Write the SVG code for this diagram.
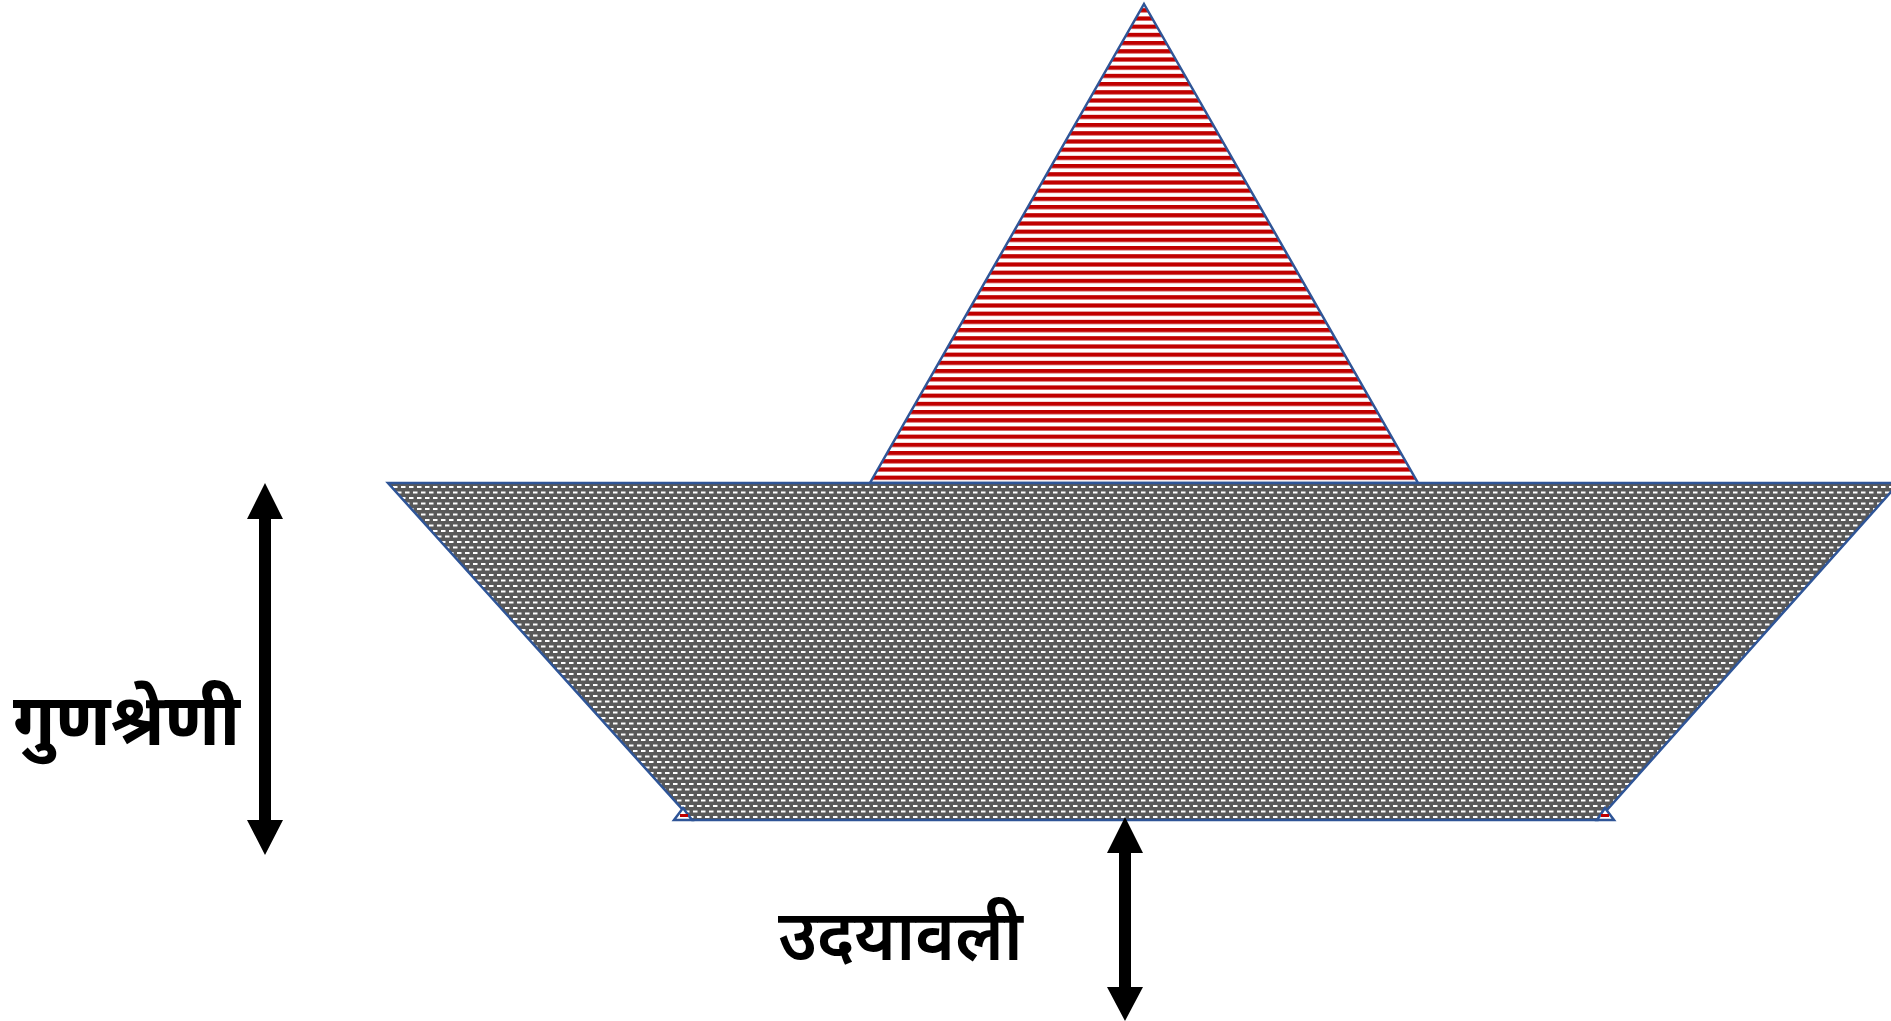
<svg xmlns="http://www.w3.org/2000/svg" width="1891" height="1021" viewBox="0 0 1891 1021">
<style>
.outline{stroke:#2F5597;stroke-width:2.5;stroke-linejoin:miter}
.lbl{font-family:"Noto Sans Devanagari","Noto Sans",sans-serif;fill:#000}
</style>
<defs>
<pattern id="stripes" patternUnits="userSpaceOnUse" width="8" height="8.2">
<rect width="8" height="8.2" fill="#fff"/>
<rect y="0" width="8" height="4.2" fill="#C00000"/>
</pattern>
<pattern id="bricks" patternUnits="userSpaceOnUse" width="8" height="11">
<rect width="8" height="11" fill="#595959"/>
<rect x="1" y="2" width="4.5" height="2" fill="#fff"/>
<rect x="5" y="7.5" width="4.5" height="2" fill="#fff"/>
<rect x="-3" y="7.5" width="4.5" height="2" fill="#fff"/>
</pattern>
</defs>
<g id="sail">
<polygon class="outline" points="1144,4 1418,483 870,483" fill="url(#stripes)"/>
</g>
<g id="hull">
<polygon class="outline" points="388,483 1899,483 1598,820 692,820" fill="url(#bricks)"/>
<polygon class="outline" points="683,808 692,820 674,820" fill="#fff"/>
<rect x="680" y="814" width="8" height="3" fill="#C00000"/>
<polygon class="outline" points="1605,808 1614,820 1597,820" fill="#fff"/>
<rect x="1601" y="814" width="8" height="3" fill="#C00000"/>
</g>
<g id="connectors">
<polygon points="265,483 283,519 271,519 271,820 283,820 265,855 247,820 259,820 259,519 247,519" fill="#000"/>
<polygon points="1125,817 1143,853 1131,853 1131,987 1143,987 1125,1021 1107,987 1119,987 1119,853 1107,853" fill="#000"/>
</g>
<g id="label-gunashreni">
<text class="lbl" x="13" y="745" font-size="72" font-weight="bold" textLength="227" lengthAdjust="spacingAndGlyphs">गुणश्रेणी</text>
</g>
<g id="label-udayavali">
<text class="lbl" x="778" y="960" font-size="70" font-weight="600" textLength="245" lengthAdjust="spacingAndGlyphs">उदयावली</text>
</g>
</svg>
